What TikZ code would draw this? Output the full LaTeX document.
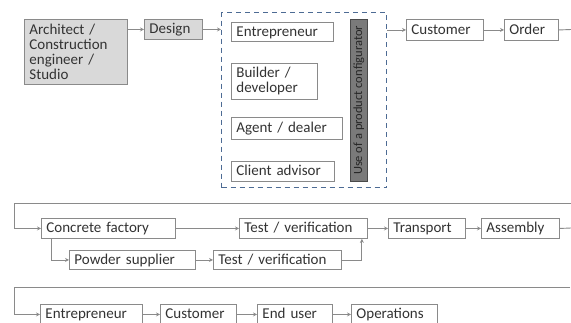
\documentclass[tikz,border=0pt]{standalone}
\usepackage{fontspec}
\setmainfont{Carlito}
\usetikzlibrary{arrows.meta}
\definecolor{lgray}{HTML}{D9D9D9}
\definecolor{bord}{HTML}{8A8A8A}
\definecolor{dbox}{HTML}{7A7A7A}
\definecolor{dboxb}{HTML}{4A4A4A}
\definecolor{dashc}{HTML}{4D6B94}
\definecolor{txt}{HTML}{333333}
\tikzset{
  mbox/.style={draw=bord, line width=0.9pt, fill=white, anchor=north west, inner xsep=5pt, inner ysep=0pt, align=left, text=txt, font=\fontsize{15}{15}\selectfont},
  box/.style={mbox, text height=11.5pt, text depth=2.5pt},
  gbox/.style={box, fill=lgray},
  gmbox/.style={mbox, fill=lgray},
  conn/.style={draw=bord, line width=0.9pt},
  arr/.style={conn, -{Stealth[length=4pt,width=4pt]}},
  grpbox/.style={draw=dashc, line width=1.4pt, dash pattern=on 5pt off 4pt, anchor=north west, inner sep=0pt},
  cfgbox/.style={draw=dboxb, fill=dbox, line width=0.9pt, anchor=north west, inner sep=0pt}
}
\newcommand\bx[7][box]{\node[#1, text width=#5pt-10pt, minimum height=#6pt] (#2) at (#3,#4) {#7};}
\begin{document}
\begin{tikzpicture}[x=1pt,y=-1pt]
\clip (0,0) rectangle (571,322);
\fill[white] (0,0) rectangle (571,322);
% row 1
\bx[gmbox]{arch}{24}{19}{103}{65}{Architect /\\Construction\\engineer /\\Studio}
\bx[gbox]{design}{144}{19}{58}{20}{Design}
\node[grpbox, minimum width=165pt, minimum height=175pt] (grp) at (221,12) {};
\bx{ent1}{231}{22}{102}{19}{Entrepreneur}
\bx[mbox]{build}{231}{63}{86}{36}{Builder /\\developer}
\bx{agent}{231}{117}{111}{22}{Agent / dealer}
\bx{client}{231}{161}{103}{20}{Client advisor}
\node[cfgbox, minimum width=17pt, minimum height=162pt] (cfg) at (350,19) {};
\node[rotate=90, text=black!85, font=\fontsize{12.5}{13}\selectfont, inner sep=0pt] (cfgt) at (cfg.center) {Use of a product configurator};
\bx{cust1}{406}{19}{77}{21}{Customer}
\bx{order}{504}{19}{54}{21}{Order}
\coordinate (r1end) at (571,29.5);
\draw[arr] (arch.east |- design.west) -- (design.west);
\draw[arr] (design.east) -- (design.east -| grp.west);
\draw[arr] (grp.east |- cust1.west) -- (cust1.west);
\draw[arr] (cust1.east) -- (order.west);
\draw[conn] (order.east) -- (r1end);
% row 2
\bx{cf}{41}{218}{134}{20}{Concrete factory}
\bx{test1}{239}{218}{128}{20}{Test / verification}
\bx{powder}{69}{250}{126}{19}{Powder supplier}
\bx{test2}{213}{250}{128}{19}{Test / verification}
\bx{transport}{388}{218}{77}{20}{Transport}
\bx{assembly}{481}{218}{78}{20}{Assembly}
\coordinate (r2R) at (571,203);
\coordinate (r2L) at (14,203);
\coordinate (r2end) at (571,228);
\draw[arr] (r2R) -- (r2L) |- (cf.west);
\draw[arr] (cf.east) -- (test1.west);
\draw[arr] ([xshift=10pt]cf.south west) |- (powder.west);
\draw[arr] (powder.east) -- (test2.west);
\draw[arr] (test2.east) -| ([xshift=-6pt]test1.south east);
\draw[arr] (test1.east) -- (transport.west);
\draw[arr] (transport.east) -- (assembly.west);
\draw[conn] (assembly.east) -- (r2end);
% row 3
\bx{ent2}{40}{304}{102}{20}{Entrepreneur}
\bx{cust2}{160}{304}{76}{20}{Customer}
\bx{enduser}{257}{304}{75}{20}{End user}
\bx{oper}{351}{304}{86}{20}{Operations}
\coordinate (r3R) at (570,287);
\coordinate (r3L) at (14,287);
\draw[arr] (r3R) -- (r3L) |- (ent2.west);
\draw[arr] (ent2.east) -- (cust2.west);
\draw[arr] (cust2.east) -- (enduser.west);
\draw[arr] (enduser.east) -- (oper.west);
\end{tikzpicture}
\end{document}
